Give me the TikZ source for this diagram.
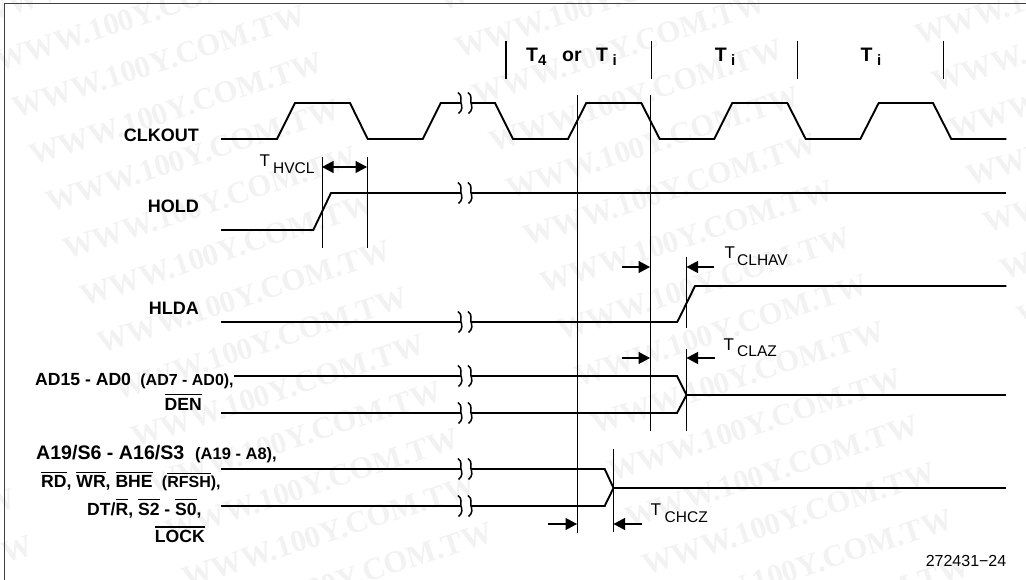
\documentclass[tikz,border=0pt]{standalone}
\usepackage{fontspec}
\setmainfont{Liberation Sans}
\newfontfamily\wmfont{Liberation Serif}
\usetikzlibrary{arrows.meta}
\newcommand\olb[1]{\setbox0\hbox{#1}\rlap{\raisebox{\dimexpr\ht0+2.5pt}{\rule{\wd0}{1.1pt}}}\box0\relax}
\newcommand\fs[1]{\fontsize{#1}{#1}\selectfont}
\tikzset{
  sig/.style={line width=1.9pt,line join=miter,black},
  thin line/.style={line width=1pt,black},
  tick/.style={line width=1.4pt,black},
  frameline/.style={line width=1.2pt,black!75},
  brk/.style={line width=1.5pt,black},
  dim/.style={line width=1.3pt,black,-{Triangle[length=11.5pt,width=12pt]}},
  dimboth/.style={line width=1.3pt,black,{Triangle[length=11.5pt,width=12pt]}-{Triangle[length=11.5pt,width=12pt]}},
  lab/.style={anchor=base west,inner sep=0pt,font=\bfseries\fs{17.6}},
  labr/.style={anchor=base east,inner sep=0pt,font=\bfseries\fs{18}},
  sm/.style={anchor=base west,inner sep=0pt,font=\fs{17}},
  sb/.style={anchor=base west,inner sep=0pt,font=\fs{15.5}},
  hd/.style={anchor=base west,inner sep=0pt,font=\bfseries\fs{19.5}},
  hs/.style={anchor=base west,inner sep=0pt,font=\bfseries\fs{15}},
  wm/.style={anchor=base west,inner sep=0pt,rotate=18,text=black!5,font=\wmfont\bfseries\fs{31}},
}
\newcommand\breakmark[1]{%
  \draw[brk] (458,#1-10.5) .. controls (463,#1-7) and (460,#1-3) .. (461,#1)
     .. controls (462,#1+3) and (463,#1+7) .. (458.5,#1+10.5);
  \draw[brk] (468,#1-10.5) .. controls (473,#1-7) and (470,#1-3) .. (471,#1)
     .. controls (472,#1+3) and (473,#1+7) .. (468.5,#1+10.5);
}
\begin{document}
\begin{tikzpicture}[x=1pt,y=-1pt]
\useasboundingbox (0,0) rectangle (1026,580);
% watermark
\foreach \c in {-1,0,1,2,3}{
  \foreach \r in {-14,-13,...,4}{
    \pgfmathsetmacro\wx{(\c-1)*460+\r*17+629}
    \pgfmathsetmacro\wy{\r*47+529-(\c-1)*13}
    \pgfmathtruncatemacro\vis{and(and(\wx<1030,\wx>-310),and(\wy>-5,\wy<680))}
    \ifnum\vis=1
      \node[wm] (wm\c-\r) at (\wx,\wy) {WWW.100Y.COM.TW};
    \fi
  }
}
% frame
\draw[frameline] (4.5,580) -- (4.5,3.5) -- (1026,3.5);
% top period ticks
\draw[tick] (506,41) -- (506,79);
\draw[tick] (651.3,41) -- (651.3,79);
\draw[tick] (797.3,41) -- (797.3,79);
\draw[tick] (943.3,41) -- (943.3,79);
\node[hd] (h1) at (526,61.7) {T};
\node[hs] (h2) at (538,65.7) {4};
\node[hd] (h3) at (562,61.7) {or};
\node[hd] (h4) at (596,61.7) {T};
\node[hs] (h5) at (612.5,65.7) {i};
\node[hd] (h6) at (714.7,61.7) {T};
\node[hs] (h7) at (731,65.7) {i};
\node[hd] (h8) at (860.5,61.7) {T};
\node[hs] (h9) at (877,65.7) {i};
% CLKOUT
\draw[sig] (221,139) -- (277,139) -- (295,103) -- (350,103) -- (367.7,139) -- (422.7,139) -- (440.7,103) -- (461,103);
\draw[sig] (471,103) -- (495,103) -- (513,139) -- (568,139) -- (586.3,103) -- (641.3,103) -- (659.7,139) -- (714.3,139) -- (732.3,103) -- (787.3,103) -- (805.7,139) -- (860.3,139) -- (878.7,103) -- (933,103) -- (951.3,139) -- (1006.3,139);
\breakmark{103}
% HOLD
\draw[sig] (221,230) -- (313.3,230) -- (331,193) -- (461,193);
\draw[sig] (471,193) -- (1006.3,193);
\breakmark{193}
% HLDA
\draw[sig] (221,322) -- (461,322);
\draw[sig] (471,322) -- (677.3,322) -- (695,286) -- (1006.3,286);
\breakmark{322}
% AD bus
\draw[sig] (234,376) -- (461,376);
\draw[sig] (221,413) -- (461,413);
\draw[sig] (471,376) -- (677,376) -- (686.5,395) -- (677,413) -- (471,413);
\draw[sig] (686.5,395) -- (1006.3,395);
\breakmark{376}
\breakmark{413}
% A19 bus
\draw[sig] (221,469) -- (461,469);
\draw[sig] (221,506) -- (461,506);
\draw[sig] (471,469) -- (604.7,469) -- (613.5,488) -- (604.7,506) -- (471,506);
\draw[sig] (613.5,488) -- (1006.3,488);
\breakmark{469}
\breakmark{506}
% reference lines
\draw[thin line] (322,157) -- (322,248);
\draw[thin line] (367,157) -- (367,248);
\draw[thin line] (577,95) -- (577,533);
\draw[thin line] (650,95) -- (650,431);
\draw[thin line] (686.5,257) -- (686.5,328);
\draw[thin line] (686.5,349) -- (686.5,431);
\draw[thin line] (613.5,449) -- (613.5,532);
% dimension arrows
\coordinate (d1a) at (322,167); \coordinate (d1b) at (367,167);
\draw[dimboth] (d1a) -- (d1b);
\coordinate (d2a) at (622,267); \coordinate (d2b) at (650,267);
\coordinate (d2c) at (714,267); \coordinate (d2d) at (686.5,267);
\draw[dim] (d2a) -- (d2b);
\draw[dim] (d2c) -- (d2d);
\coordinate (d3a) at (622,358); \coordinate (d3b) at (650,358);
\coordinate (d3c) at (714.5,358); \coordinate (d3d) at (686.5,358);
\draw[dim] (d3a) -- (d3b);
\draw[dim] (d3c) -- (d3d);
\coordinate (d4a) at (548,524); \coordinate (d4b) at (577,524);
\coordinate (d4c) at (641.5,524); \coordinate (d4d) at (613.5,524);
\draw[dim] (d4a) -- (d4b);
\draw[dim] (d4c) -- (d4d);
% timing labels
\node[sm] (t1) at (259.5,167) {T};
\node[sb] (t1s) at (273,174) {HVCL};
\node[sm] (t2) at (724.5,258.3) {T};
\node[sb] (t2s) at (737,265.7) {CLHAV};
\node[sm] (t3) at (723.5,350) {T};
\node[sb] (t3s) at (737,356.7) {CLAZ};
\node[sm] (t4) at (650.5,515) {T};
\node[sb] (t4s) at (664.5,522.3) {CHCZ};
% signal labels
\node[labr] (clk) at (199,141.5) {CLKOUT};
\node[labr] (hold) at (199,212.7) {HOLD};
\node[labr] (hlda) at (199,314) {HLDA};
\node[lab] (ad) at (35,385.7) {AD15 - AD0 {\fs{16} (AD7 - AD0),}};
\node[labr,font=\bfseries\fs{17.6}] (den) at (202,410) {\olb{DEN}};
\node[lab,font=\bfseries\fs{19.6}] (a19) at (36,459) {A19/S6 - A16/S3};
\node[lab,font=\bfseries\fs{16.5}] (a19b) at (195,459) {(A19 - A8),};
\node[lab] (rd) at (41,487.7) {\olb{RD}, \olb{WR}, \olb{BHE} {\fs{16} (\olb{RFSH}),}};
\node[lab] (dt) at (87,515) {DT/\olb{R}, \olb{S2} - \olb{S0},};
\node[labr,font=\bfseries\fs{17.6}] (lock) at (205,542.3) {\olb{LOCK}};
\node[anchor=base east,inner sep=0pt,font=\fs{16}] (fig) at (1006.5,566.7) {272431−24};
\end{tikzpicture}
\end{document}
